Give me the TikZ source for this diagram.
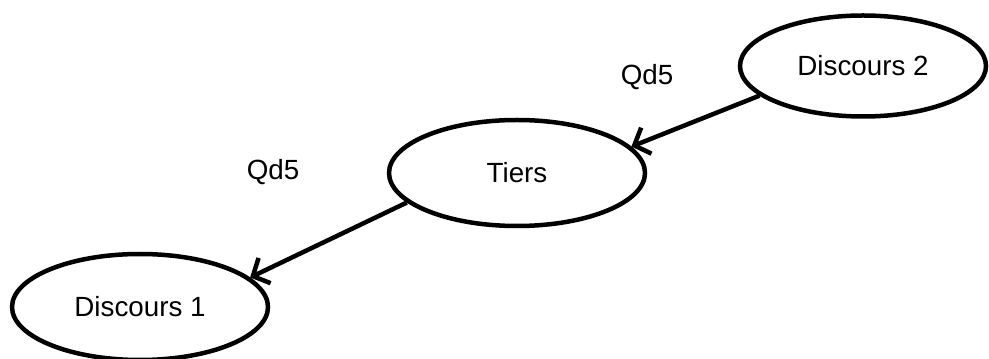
\documentclass[tikz,border=0pt]{standalone}
\usepackage{fontspec}
\setmainfont{Liberation Sans}
\usetikzlibrary{arrows.meta,shapes.geometric}
\tikzset{
	disc/.style={draw, ellipse, line width=0.9mm, inner sep=0pt, font=\fontsize{15.8}{19}\selectfont},
	link/.style={line width=0.9mm, -{Straight Barb[length=2.6mm, width=5.6mm, line width=0.9mm]}},
	qlabel/.style={font=\fontsize{15.8}{19}\selectfont}
}

\begin{document}
\begin{tikzpicture}
		%%%%% START %%%%%
		
		\useasboundingbox (0, 0) rectangle (19.78, 7.16);
		
		\node[disc, minimum width=4.92cm, minimum height=2.02cm] (discours2) at (17.26, 5.84) {Discours 2};
		\node[disc, minimum width=5.12cm, minimum height=2.12cm] (tiers) at (10.34, 3.70) {Tiers};
		\node[disc, minimum width=5.12cm, minimum height=2.12cm] (discours1) at (2.8, 1.02) {Discours 1};
		
		\node[qlabel] (qd5a) at (12.94, 5.62) {Qd5};
		\node[qlabel] (qd5b) at (5.46, 3.72) {Qd5};
		
		\draw[link] (discours2.196) -- (tiers.13);
		\draw[link] (tiers.195) -- (discours1.15);
		
		%%%%% END %%%%%
	\end{tikzpicture}
\end{document}
